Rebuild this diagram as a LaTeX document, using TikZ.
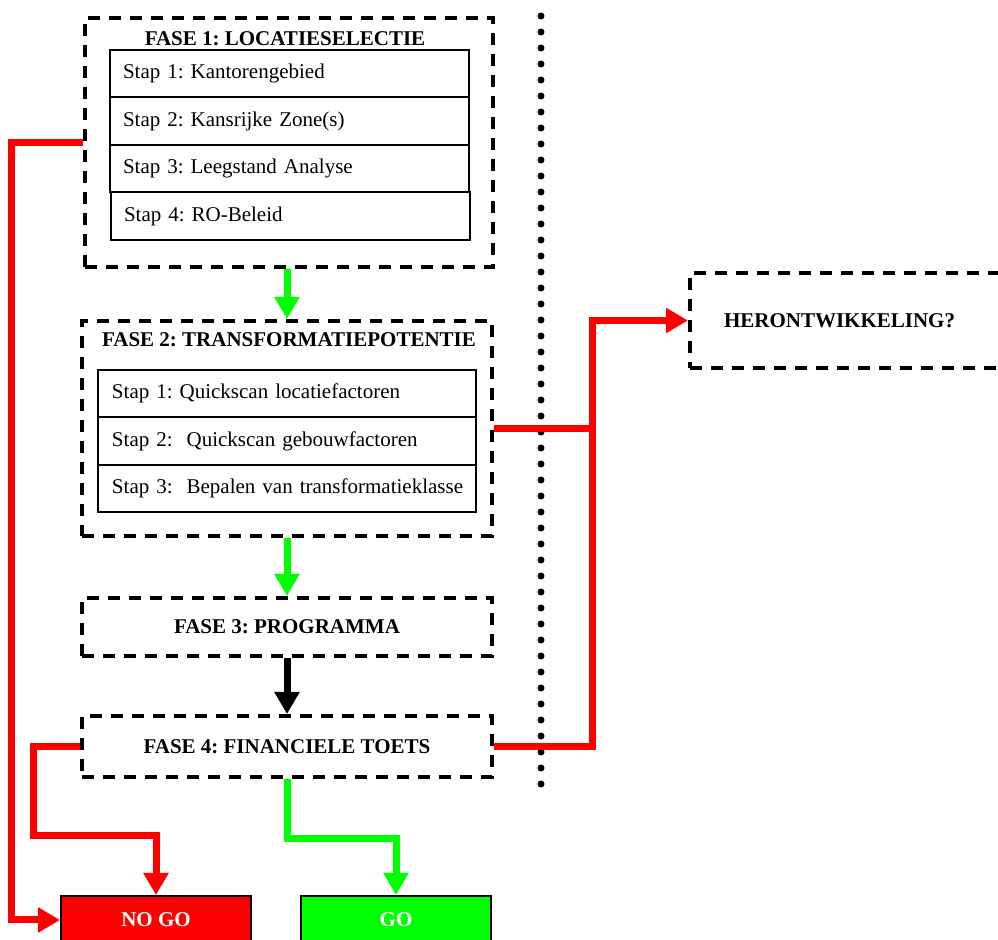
\documentclass[tikz,border=0pt]{standalone}
\usepackage{fontspec}
\setmainfont{Liberation Serif}
\usepackage{tikz}
\usetikzlibrary{
  arrows.meta,
  positioning,
  calc
}
\definecolor{nogored}{HTML}{FF0000}
\definecolor{gogreen}{HTML}{00FF00}
\newcommand{\diagfont}{\fontsize{10.5pt}{12.6pt}\selectfont\frenchspacing}
\tikzset{
  fasebox/.style={
    rectangle, draw=black, line width=2pt,
    dash pattern=on 6pt off 4.5pt, align=center,
    font=\diagfont\bfseries
  },
  fasetitel/.style={
    font=\diagfont\bfseries, inner sep=0pt
  },
  stapbox/.style={
    rectangle, draw=black, line width=1pt, outer sep=0pt,
    minimum height=23.75pt, inner xsep=6.5pt, align=left,
    font=\diagfont
  },
  herbox/.style={
    rectangle, draw=black, line width=2pt,
    dash pattern=on 6pt off 4.5pt, minimum height=47.5pt,
    inner xsep=17pt, text width=130pt, align=left,
    font=\diagfont\bfseries
  },
  eindbox/.style={
    rectangle, draw=black, line width=1pt, fill=#1,
    minimum width=95pt, minimum height=24pt,
    text=white, font=\diagfont\bfseries
  },
  pijl/.style={
    -{Triangle[width=12pt,length=11pt]}, line width=3.5pt, color=#1
  },
  lijn/.style={
    line width=3.5pt, color=#1
  },
  scheiding/.style={
    line width=3.5pt, line cap=round, dash pattern=on 0pt off 8pt
  },
}

\begin{document}
\begin{tikzpicture}[x=0.5pt, y=-0.5pt]
  \useasboundingbox (0,0) rectangle (998,940);
  \clip (0,0) rectangle (998,940);

  % fase 1
  \node[fasebox, minimum width=204pt, minimum height=124.5pt]
    (f1) at (289,142.5) {};
  \node[fasetitel] (t1) at (285,39) {FASE 1: LOCATIESELECTIE};
  \node[stapbox, text width=166.5pt] (s11) at (289.5,73.75) {Stap 1: Kantorengebied};
  \node[stapbox, text width=166.5pt, below=0pt of s11] (s12) {Stap 2: Kansrijke Zone(s)};
  \node[stapbox, text width=166.5pt, below=0pt of s12] (s13) {Stap 3: Leegstand Analyse};
  \node[stapbox, text width=166.5pt, below=0pt of s13, xshift=0.5pt] (s14) {Stap 4: RO-Beleid};

  % fase 2
  \node[fasebox, minimum width=205pt, minimum height=107.5pt]
    (f2) at (287,428.5) {};
  \node[fasetitel] (t2) at (289,340) {FASE 2: TRANSFORMATIEPOTENTIE};
  \node[stapbox, text width=175pt, inner xsep=7pt] (s21) at (287,393.75) {Stap 1: Quickscan locatiefactoren};
  \node[stapbox, text width=175pt, inner xsep=7pt, below=0pt of s21] (s22) {Stap 2:~ Quickscan gebouwfactoren};
  \node[stapbox, text width=175pt, inner xsep=7pt, below=0pt of s22] (s23) {\mbox{Stap 3:~ Bepalen van transformatieklasse}};

  % fase 3 en 4
  \node[fasebox, minimum width=205pt, minimum height=29pt]
    (f3) at (287,627) {FASE 3: PROGRAMMA};
  \node[fasebox, minimum width=205pt, minimum height=30.5pt]
    (f4) at (287,746.5) {FASE 4: FINANCIELE TOETS};

  \node[herbox, anchor=west] (her) at (688,320.5) {HERONTWIKKELING?};

  \node[eindbox=nogored] (nogo) at (156,920) {NO GO};
  \node[eindbox=gogreen] (go) at (396,920) {GO};

  % scheidingslijn
  \draw[scheiding] (541,16) -- (541,784);

  % pijlen
  \draw[pijl=gogreen] (f2.north |- f1.south) -- (f2.north);
  \draw[pijl=gogreen] (f2.south) -- (f3.north);
  \draw[pijl=black] (f3.south) -- (f4.north);
  \draw[pijl=gogreen] (f4.south) -- ++(0,60) -| (go.north);
  \draw[pijl=nogored] (f4.west) -- ++(-47,0) |- ([yshift=29.5pt]nogo.north) -- (nogo.north);
  \draw[pijl=nogored] (f1.west) -- ++(-72,0) |- (nogo.west);
  \draw[lijn=nogored] (f2.east) -- ++(98,0);
  \draw[pijl=nogored] (f4.east) -- ++(98,0) |- (her.west);
\end{tikzpicture}
\end{document}
